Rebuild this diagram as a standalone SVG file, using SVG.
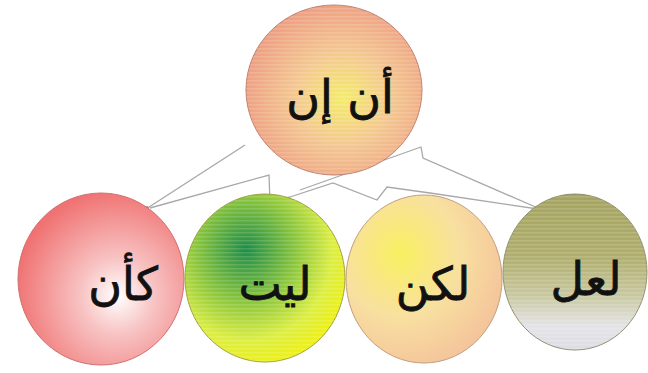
<svg xmlns="http://www.w3.org/2000/svg" width="648" height="373" viewBox="0 0 648 373">
<style>
.lbl{font-family:"DejaVu Sans","Liberation Sans",sans-serif;font-size:46px;fill:#111;stroke:#111;stroke-width:0.8;text-anchor:middle}
.conn{fill:none;stroke:#a8a8a8;stroke-width:1.3;stroke-linejoin:miter}
</style>
<defs>
<radialGradient id="gTop" cx="0.55" cy="0.55" r="0.6">
<stop offset="0" stop-color="#f4ec6a"/>
<stop offset="0.45" stop-color="#f4c890"/>
<stop offset="1" stop-color="#ee9a80"/>
</radialGradient>
<radialGradient id="gRed" cx="0.6" cy="0.6" r="0.62">
<stop offset="0" stop-color="#ffffff"/>
<stop offset="0.35" stop-color="#f8c4c4"/>
<stop offset="1" stop-color="#f07272"/>
</radialGradient>
<radialGradient id="gGreen" cx="0.38" cy="0.33" r="0.75" fx="0.38" fy="0.33">
<stop offset="0" stop-color="#1f8c48"/>
<stop offset="0.4" stop-color="#86c43c"/>
<stop offset="0.72" stop-color="#dcee40"/>
<stop offset="1" stop-color="#f4f200"/>
</radialGradient>
<radialGradient id="gOrange" cx="0.35" cy="0.35" r="0.75">
<stop offset="0" stop-color="#f8f060"/>
<stop offset="0.5" stop-color="#f8e0a0"/>
<stop offset="1" stop-color="#f4c09a"/>
</radialGradient>
<linearGradient id="gOlive" x1="0" y1="0" x2="0" y2="1">
<stop offset="0" stop-color="#a4a460"/>
<stop offset="0.4" stop-color="#b0ae6c"/>
<stop offset="0.65" stop-color="#c8c8a0"/>
<stop offset="0.85" stop-color="#e4e4e8"/>
<stop offset="1" stop-color="#dcdce4"/>
</linearGradient>
<pattern id="stripes" width="4" height="4" patternUnits="userSpaceOnUse">
<rect width="4" height="1.5" fill="#ffffff" opacity="0.15"/>
</pattern>
</defs>
<g id="connectors">
<polyline class="conn" points="245,145 146,209"/>
<polyline class="conn" points="150,208 269,175 270,202 290,197"/>
<polyline class="conn" points="290,197 333,183 377,200 387,187 430,193 538,209"/>
<polyline class="conn" points="300,190 421,147 423,158 540,209"/>
<path d="M137,213 L148,207" stroke="#9a5a60" stroke-width="2.5"/>
<path d="M534,209 L547,213" stroke="#6a6a40" stroke-width="2.5"/>
</g>
<g id="node-top">
<ellipse cx="334" cy="90" rx="88" ry="85" fill="url(#gTop)" stroke="#c08070" stroke-width="1"/>
<ellipse cx="334" cy="90" rx="88" ry="85" fill="url(#stripes)"/>
<text class="lbl" x="340" y="113">أن إن</text>
</g>
<g id="node-kaanna">
<ellipse cx="101" cy="279" rx="83" ry="86" fill="url(#gRed)" stroke="#d07070" stroke-width="1"/>
<text class="lbl" x="123" y="300">كأن</text>
</g>
<g id="node-layta">
<ellipse cx="265" cy="278" rx="80" ry="84" fill="url(#gGreen)" stroke="#a0a040" stroke-width="1"/>
<ellipse cx="265" cy="278" rx="80" ry="84" fill="url(#stripes)"/>
<text class="lbl" x="275" y="300">ليت</text>
</g>
<g id="node-lakin">
<ellipse cx="424" cy="279" rx="78" ry="84" fill="url(#gOrange)" stroke="#c0a080" stroke-width="1"/>
<text class="lbl" x="433" y="300">لكن</text>
</g>
<g id="node-laalla">
<ellipse cx="575" cy="272" rx="72" ry="78" fill="url(#gOlive)" stroke="#909070" stroke-width="1"/>
<ellipse cx="575" cy="272" rx="72" ry="78" fill="url(#stripes)"/>
<text class="lbl" x="586" y="295">لعل</text>
</g>
</svg>
